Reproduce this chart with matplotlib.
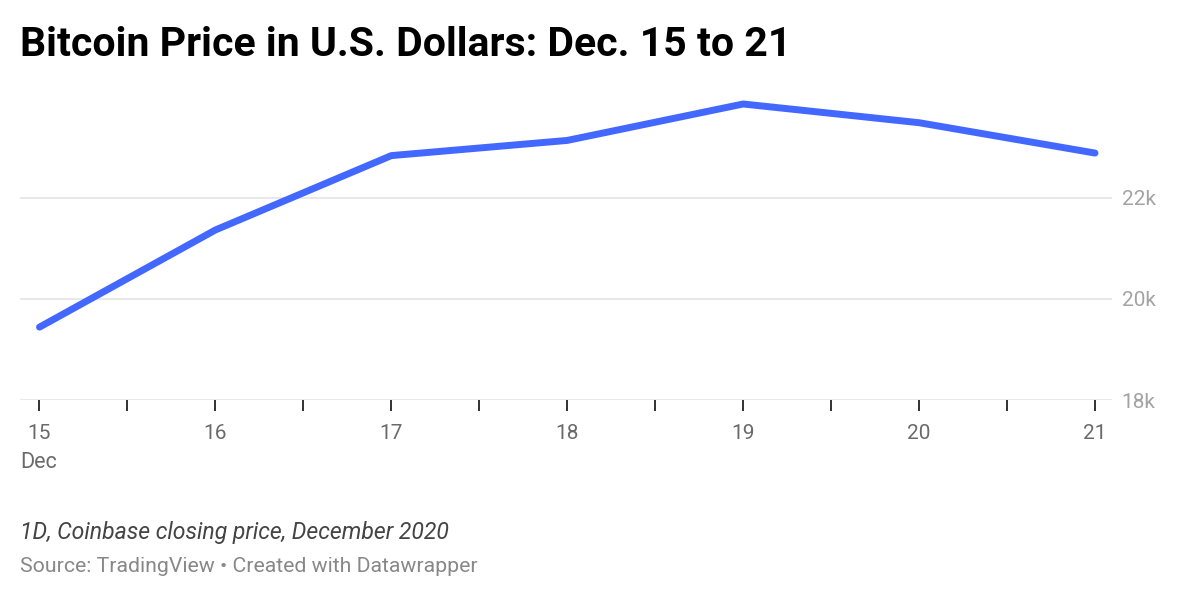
import matplotlib
matplotlib.use('Agg')
import matplotlib.pyplot as plt
from matplotlib.ticker import FixedLocator, FuncFormatter

# Bitcoin closing price (Coinbase, 1D), Dec 15-21 2020
days = [15, 16, 17, 18, 19, 20, 21]
prices = [19440, 21360, 22830, 23130, 23850, 23480, 22880]
y_ticks = [18000, 20000, 22000]
y_labels = ['18k', '20k', '22k']

TITLE = 'Bitcoin Price in U.S. Dollars: Dec. 15 to 21'
NOTE = '1D, Coinbase closing price, December 2020'
SOURCE = 'Source: TradingView \u2022 Created with Datawrapper'

LINE_COLOR = '#4368ff'

plt.rcParams['font.family'] = ['Roboto', 'DejaVu Sans']

fig = plt.figure(figsize=(11.8, 6.09), dpi=100)
ax = fig.add_axes([20 / 1180, 1 - 400 / 609, 1092 / 1180, 314 / 609])

ax.plot(days, prices, color=LINE_COLOR, lw=5, solid_capstyle='round',
        solid_joinstyle='round', zorder=3)

ax.set_xlim(15 - 19.5 / 176, 21 + 17 / 176)
ax.set_ylim(18000, 18000 + 314 / 50.6 * 1000)

# gridlines
for v in y_ticks:
    ax.axhline(v, color='#e2e2e2', lw=1.1, zorder=1)

for s in ax.spines.values():
    s.set_visible(False)

ax.yaxis.tick_right()
ax.yaxis.set_major_locator(FixedLocator(y_ticks))
ax.set_yticklabels(y_labels)
ax.tick_params(axis='y', length=0, pad=7, labelsize=15, labelcolor='#a3a3a3')

ax.xaxis.set_major_locator(FixedLocator(days))
ax.xaxis.set_minor_locator(FixedLocator([d + 0.5 for d in days[:-1]]))
ax.xaxis.set_major_formatter(FuncFormatter(lambda v, p: '%d' % v))
ax.tick_params(axis='x', which='both', length=8, width=1.3, color='#222222',
               direction='out', pad=9, labelsize=15, labelcolor='#6a6a6a')

fig.text(20 / 1180, 1 - 462 / 609, 'Dec', fontsize=15.5, color='#6a6a6a',
         va='center', ha='left')

fig.text(20 / 1180, 1 - 45 / 609, TITLE, fontsize=29.5, fontweight='bold',
         color='#000000', va='center', ha='left')
fig.text(20 / 1180, 1 - 532 / 609, NOTE, fontsize=16.6, style='italic',
         color='#444444', va='center', ha='left')
fig.text(20 / 1180, 1 - 567 / 609, SOURCE, fontsize=15.3, color='#888888',
         va='center', ha='left')

fig.savefig('out.png', dpi=100, facecolor='white')
